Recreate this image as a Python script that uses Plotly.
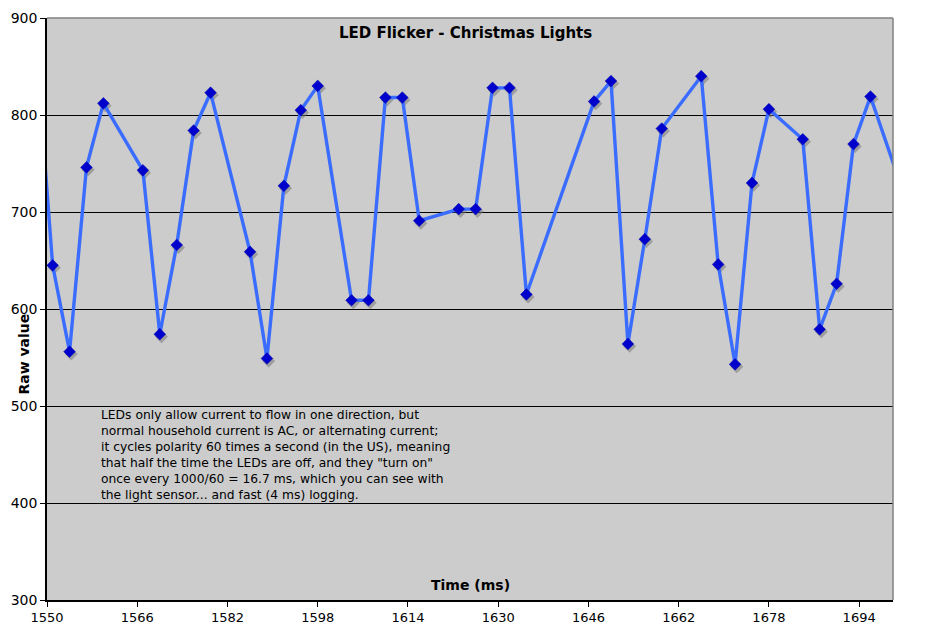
import plotly.graph_objects as go

# time stamps (ms) and raw light sensor readings
time_ms = [1548, 1551, 1554, 1557, 1560, 1567, 1570, 1573, 1576, 1579,
           1586, 1589, 1592, 1595, 1598, 1604, 1607, 1610, 1613, 1616,
           1623, 1626, 1629, 1632, 1635, 1647, 1650, 1653, 1656, 1659,
           1666, 1669, 1672, 1675, 1678, 1684, 1687, 1690, 1693, 1696,
           1703]
raw_value = [876, 645, 556, 746, 812, 743, 574, 666, 784, 823,
             659, 549, 727, 805, 830, 609, 609, 818, 818, 691,
             703, 703, 828, 828, 615, 814, 835, 564, 672, 786,
             840, 646, 543, 730, 806, 775, 579, 626, 770, 819,
             700]

x_ticks = [1550, 1566, 1582, 1598, 1614, 1630, 1646, 1662, 1678, 1694]

note = ("LEDs only allow current to flow in one direction, but<br>"
        "normal household current is AC, or alternating current;<br>"
        "it cycles polarity 60 times a second (in the US), meaning<br>"
        "that half the time the LEDs are off, and they \"turn on\"<br>"
        "once every 1000/60 = 16.7 ms, which you can see with<br>"
        "the light sensor... and fast (4 ms) logging.")

font = "DejaVu Sans, Verdana, sans-serif"

fig = go.Figure()

# soft grey drop shadow under the markers
fig.add_trace(go.Scatter(
    x=[t + 0.3 for t in time_ms],
    y=[v - 2.5 for v in raw_value],
    mode='markers',
    marker=dict(symbol='diamond', size=10, color='rgba(120,120,120,0.55)'),
    hoverinfo='skip',
    showlegend=False,
))

fig.add_trace(go.Scatter(
    x=time_ms,
    y=raw_value,
    mode='lines+markers',
    line=dict(color='#3a6cff', width=3.4),
    marker=dict(symbol='diamond', size=9, color='#0000cc',
                line=dict(color='#0000aa', width=0.5)),
    showlegend=False,
))

# the page body adds an 8px offset, so the margins absorb it
fig.update_layout(
    width=930,
    height=636,
    margin=dict(l=39, r=45, t=10, b=44),
    paper_bgcolor='white',
    plot_bgcolor='#cccccc',
    font=dict(family=font, size=13, color='black'),
    xaxis=dict(
        range=[1550, 1700],
        tickvals=x_ticks,
        automargin=False,
        ticks='outside', ticklen=5, tickcolor='black',
        showgrid=False, zeroline=False,
        showline=True, linecolor='black', linewidth=1.5,
        tickfont=dict(size=13),
    ),
    yaxis=dict(
        range=[300, 900],
        dtick=100,
        automargin=False,
        ticks='outside', ticklen=5, tickcolor='black',
        showgrid=True, gridcolor='black', gridwidth=1,
        zeroline=False,
        showline=True, linecolor='black', linewidth=1.5,
        tickfont=dict(size=14),
    ),
    shapes=[
        # grey frame on the top and right of the plot area
        dict(type='line', xref='paper', yref='paper', x0=0, x1=1, y0=1, y1=1,
             line=dict(color='#808080', width=1.5), layer='above'),
        dict(type='line', xref='paper', yref='paper', x0=1, x1=1, y0=0, y1=1,
             line=dict(color='#808080', width=1.5), layer='above'),
    ],
    annotations=[
        dict(text='<b>LED Flicker - Christmas Lights</b>', xref='paper', yref='paper',
             x=0.495, y=0.974, xanchor='center', yanchor='middle',
             showarrow=False, font=dict(size=15)),
        dict(text='<b>Time (ms)</b>', xref='paper', yref='paper',
             x=0.500, y=0.026, xanchor='center', yanchor='middle',
             showarrow=False, font=dict(size=14)),
        dict(text='<b>Raw value</b>', xref='paper', yref='paper',
             x=-0.027, y=0.422, xanchor='center', yanchor='middle',
             showarrow=False, textangle=-90, font=dict(size=14)),
        dict(text=note, xref='paper', yref='paper', x=0.0615, y=0.334,
             xanchor='left', yanchor='top', align='left', showarrow=False,
             font=dict(size=12.3)),
    ],
)

fig.write_html("out.html")
